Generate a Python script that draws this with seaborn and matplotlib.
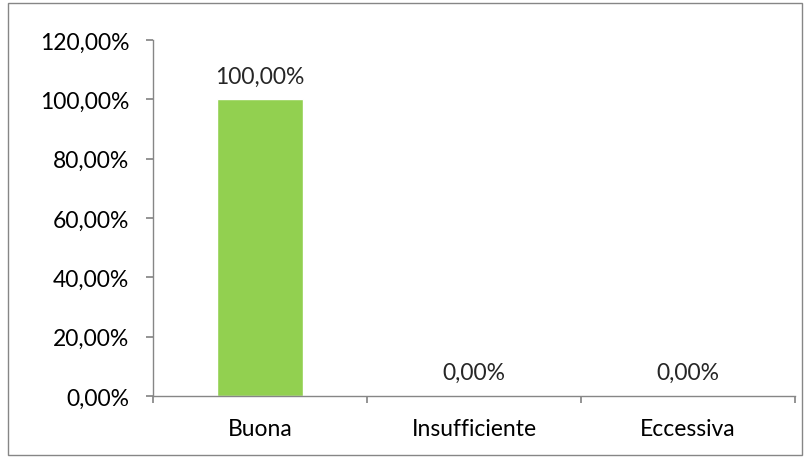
import matplotlib
matplotlib.use('Agg')
import matplotlib.pyplot as plt
import seaborn as sns
import pandas as pd
from matplotlib.patches import Rectangle

# Data
categories = ['Buona', 'Insufficiente', 'Eccessiva']
values = [1.0, 0.0, 0.0]
y_ticks = [0.0, 0.2, 0.4, 0.6, 0.8, 1.0, 1.2]

df = pd.DataFrame({'categoria': categories, 'valore': values})

sns.set_theme(style='white')
plt.rcParams['font.family'] = ['Lato', 'DejaVu Sans']

def pct(v):
    return f'{v * 100:.2f}%'.replace('.', ',')

fs = 16.5
fig = plt.figure(figsize=(8.06, 4.6), dpi=100)
ax = fig.add_axes([153 / 806, 63 / 460, (795 - 153) / 806, (397 - 41) / 460])

sns.barplot(data=df, x='categoria', y='valore', color='#92D050',
            saturation=1, width=0.4, ax=ax)

ax.set_ylim(0, 1.2)
ax.set_yticks(y_ticks)
ax.set_yticklabels([pct(v) for v in y_ticks], fontsize=fs, color='black')
ax.set_xlim(-0.5, 2.5)
ax.set_xticks([-0.5, 0.5, 1.5, 2.5], minor=False)
ax.set_xticklabels([])
ax.set_xticks([0, 1, 2], minor=True)
ax.set_xticklabels(categories, minor=True, fontsize=fs, color='black')
ax.tick_params(axis='x', which='major', direction='out', length=5, color='#868686', bottom=True)
ax.tick_params(axis='x', which='minor', length=0, pad=16, bottom=True)
ax.tick_params(axis='y', direction='out', length=5, color='#868686', left=True, pad=12)
ax.set_xlabel('')
ax.set_ylabel('')

for s in ['top', 'right']:
    ax.spines[s].set_visible(False)
for s in ['left', 'bottom']:
    ax.spines[s].set_color('#868686')
    ax.spines[s].set_linewidth(1)

for i, v in enumerate(values):
    ax.annotate(pct(v), (i, v), xytext=(0, 12), textcoords='offset points',
                ha='center', va='baseline', fontsize=fs)

# outer chart border
fig.patches.append(Rectangle((8 / 806, 4 / 460), 794 / 806, 452 / 460,
                             transform=fig.transFigure, fill=False,
                             edgecolor='#868686', linewidth=1))

fig.savefig('out.png', dpi=100)
